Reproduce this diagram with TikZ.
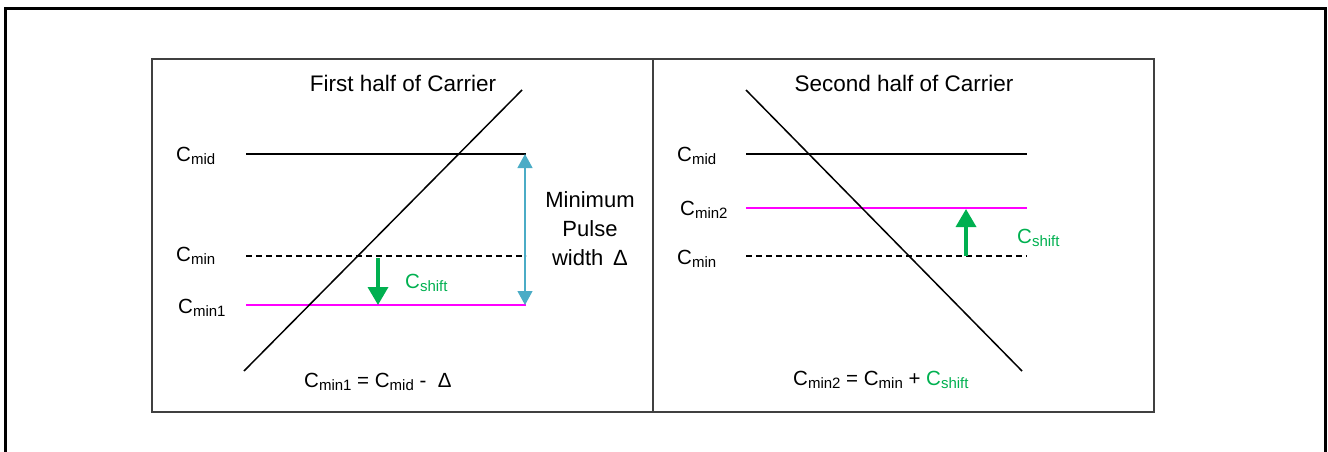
\documentclass[tikz,border=0pt]{standalone}
\usepackage{fontspec}
\setmainfont{Liberation Sans}
\usetikzlibrary{arrows.meta}
\definecolor{mag}{HTML}{FF00FF}
\definecolor{grn}{HTML}{00B050}
\definecolor{blu}{HTML}{4BACC6}
\definecolor{frm}{HTML}{404040}
\newcommand{\Clab}[1]{C{\fontsize{15}{15}\selectfont\raisebox{-3pt}{#1}}}
\tikzset{
  lab/.style={font=\fontsize{20.5}{24}\selectfont, inner sep=0pt, anchor=base west},
  ttl/.style={font=\fontsize{22.5}{26}\selectfont, inner sep=0pt},
  level/.style={line width=1.4pt, black},
  dashlevel/.style={line width=1.4pt, black, dash pattern=on 6pt off 4pt},
  maglevel/.style={line width=1.6pt, mag},
  diag/.style={line width=1.5pt, black},
  shiftarrow/.style={line width=3.5pt, grn, -{Triangle[width=20pt,length=18pt]}},
  pulsearrow/.style={line width=1.2pt, blu, {Triangle[width=15pt,length=14pt]}-{Triangle[width=15pt,length=14pt]}},
  panel/.style={line width=1.4pt, frm}
}
\begin{document}
\begin{tikzpicture}[x=1pt,y=-1pt]
\useasboundingbox (0,0) rectangle (1328,452);
% outer frame
\draw[line width=3pt] (5,480) -- (5,9) -- (1325,9) -- (1325,480);
% panels
\draw[panel] (152,59) rectangle (1154,412);
\draw[panel] (653,59) -- (653,412);

% ---------- left panel ----------
\node[ttl] (t1) at (403,83) {First half of Carrier};
\coordinate (lmidA) at (246,154); \coordinate (lmidB) at (526,154);
\coordinate (lminA) at (246,256); \coordinate (lminB) at (526,256);
\coordinate (lm1A) at (246,305); \coordinate (lm1B) at (526,305);
\coordinate (ld1) at (244,371); \coordinate (ld2) at (522,90);
\draw[level] (lmidA) -- (lmidB);
\draw[dashlevel] (lminA) -- (lminB);
\draw[maglevel] (lm1A) -- (lm1B);
\draw[diag] (ld1) -- (ld2);
\node[lab] (lcmid) at (176,161) {\Clab{mid}};
\node[lab] (lcmin) at (176,261) {\Clab{min}};
\node[lab] (lcmin1) at (178,313) {\Clab{min1}};
\coordinate (lgs) at (378,258); \coordinate (lge) at (378,305);
\draw[shiftarrow] (lgs) -- (lge);
\node[lab, text=grn] (lshift) at (405,288) {\Clab{shift}};
\coordinate (pa) at (525,154); \coordinate (pb) at (525,305);
\draw[pulsearrow] (pa) -- (pb);
\node[font=\fontsize{22}{29}\selectfont, align=center, inner sep=0pt] (pw) at (590,229) {Minimum\\Pulse\\width \,Δ};
\node[lab] (lf) at (304,387) {\Clab{min1} = \Clab{mid} -\ \ Δ};

% ---------- right panel ----------
\node[ttl] (t2) at (904,83) {Second half of Carrier};
\coordinate (rmidA) at (746,154); \coordinate (rmidB) at (1027,154);
\coordinate (rm2A) at (746,208); \coordinate (rm2B) at (1027,208);
\coordinate (rminA) at (746,256); \coordinate (rminB) at (1027,256);
\coordinate (rd1) at (746,90); \coordinate (rd2) at (1022,371);
\draw[level] (rmidA) -- (rmidB);
\draw[maglevel] (rm2A) -- (rm2B);
\draw[dashlevel] (rminA) -- (rminB);
\draw[diag] (rd1) -- (rd2);
\node[lab] (rcmid) at (677,161) {\Clab{mid}};
\node[lab] (rcmin2) at (680,215) {\Clab{min2}};
\node[lab] (rcmin) at (677,264) {\Clab{min}};
\coordinate (rgs) at (966,256); \coordinate (rge) at (966,209);
\draw[shiftarrow] (rgs) -- (rge);
\node[lab, text=grn] (rshift) at (1017,243) {\Clab{shift}};
\node[lab] (rf) at (793,385) {\Clab{min2} = \Clab{min} + \textcolor{grn}{\Clab{shift}}};
\end{tikzpicture}
\end{document}
